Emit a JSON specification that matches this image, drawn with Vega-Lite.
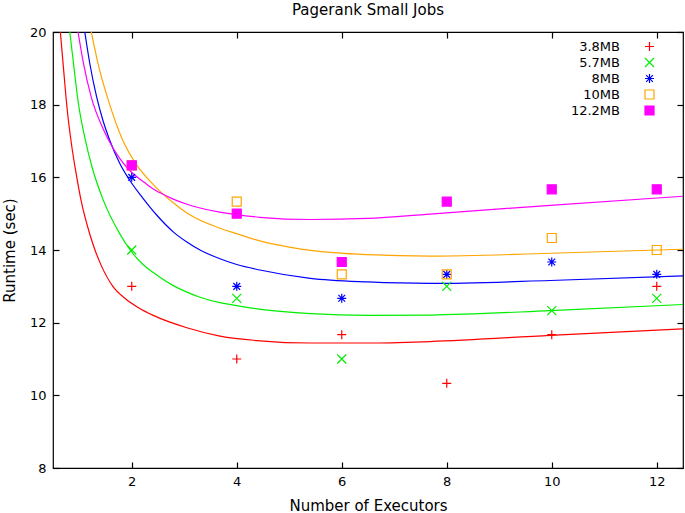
{
  "$schema": "https://vega.github.io/schema/vega-lite/v6.json",
  "width": 630,
  "height": 436,
  "autosize": {"type": "none"},
  "padding": {"left": 53, "top": 32, "right": 2, "bottom": 45},
  "background": "white",
  "title": {"text": "Pagerank Small Jobs", "font": "DejaVu Sans", "fontSize": 15, "fontWeight": "normal", "color": "black", "offset": 8},
  "config": {
    "view": {"stroke": "black", "strokeWidth": 1.2},
    "axis": {"grid": false, "domain": false, "tickColor": "black", "tickSize": -6, "tickWidth": 1.2, "labelFont": "DejaVu Sans", "labelFontSize": 13, "labelColor": "black", "titleFont": "DejaVu Sans", "titleFontSize": 15, "titleFontWeight": "normal", "titleColor": "black"},
    "legend": {"labelFont": "DejaVu Sans", "labelFontSize": 13, "labelColor": "black", "symbolSize": 81, "symbolStrokeWidth": 1.2, "rowPadding": 1, "padding": 0}
  },
  "datasets": {
    "pts": [
      {"series": "3.8MB", "x": 2, "y": 13.0}, {"series": "3.8MB", "x": 4, "y": 11.0}, {"series": "3.8MB", "x": 6, "y": 11.67}, {"series": "3.8MB", "x": 8, "y": 10.33}, {"series": "3.8MB", "x": 10, "y": 11.67}, {"series": "3.8MB", "x": 12, "y": 13.0},
      {"series": "5.7MB", "x": 2, "y": 14.0}, {"series": "5.7MB", "x": 4, "y": 12.67}, {"series": "5.7MB", "x": 6, "y": 11.0}, {"series": "5.7MB", "x": 8, "y": 13.0}, {"series": "5.7MB", "x": 10, "y": 12.33}, {"series": "5.7MB", "x": 12, "y": 12.67},
      {"series": "8MB", "x": 2, "y": 16.0}, {"series": "8MB", "x": 4, "y": 13.0}, {"series": "8MB", "x": 6, "y": 12.67}, {"series": "8MB", "x": 8, "y": 13.33}, {"series": "8MB", "x": 10, "y": 13.67}, {"series": "8MB", "x": 12, "y": 13.33},
      {"series": "10MB", "x": 2, "y": 16.33}, {"series": "10MB", "x": 4, "y": 15.33}, {"series": "10MB", "x": 6, "y": 13.33}, {"series": "10MB", "x": 8, "y": 13.33}, {"series": "10MB", "x": 10, "y": 14.33}, {"series": "10MB", "x": 12, "y": 14.0},
      {"series": "12.2MB", "x": 2, "y": 16.33}, {"series": "12.2MB", "x": 4, "y": 15.0}, {"series": "12.2MB", "x": 6, "y": 13.67}, {"series": "12.2MB", "x": 8, "y": 15.33}, {"series": "12.2MB", "x": 10, "y": 15.67}, {"series": "12.2MB", "x": 12, "y": 15.67}
    ],
    "fit": [
      {"series": "3.8MB", "x": 0.64, "y": 20}, {"series": "3.8MB", "x": 0.7, "y": 19.0}, {"series": "3.8MB", "x": 0.768, "y": 17.9}, {"series": "3.8MB", "x": 0.85, "y": 16.93}, {"series": "3.8MB", "x": 0.945, "y": 16.07}, {"series": "3.8MB", "x": 1.04, "y": 15.33}, {"series": "3.8MB", "x": 1.2, "y": 14.44}, {"series": "3.8MB", "x": 1.3, "y": 14.0}, {"series": "3.8MB", "x": 1.42, "y": 13.57}, {"series": "3.8MB", "x": 1.64, "y": 13.0}, {"series": "3.8MB", "x": 1.88, "y": 12.66}, {"series": "3.8MB", "x": 2.12, "y": 12.42}, {"series": "3.8MB", "x": 2.41, "y": 12.2}, {"series": "3.8MB", "x": 3.05, "y": 11.86}, {"series": "3.8MB", "x": 3.68, "y": 11.63}, {"series": "3.8MB", "x": 4.44, "y": 11.5}, {"series": "3.8MB", "x": 5.4, "y": 11.44}, {"series": "3.8MB", "x": 6.5, "y": 11.44}, {"series": "3.8MB", "x": 7.68, "y": 11.48}, {"series": "3.8MB", "x": 9.97, "y": 11.65}, {"series": "3.8MB", "x": 12.5, "y": 11.83},
      {"series": "5.7MB", "x": 0.82, "y": 20}, {"series": "5.7MB", "x": 0.895, "y": 19.08}, {"series": "5.7MB", "x": 0.977, "y": 18.1}, {"series": "5.7MB", "x": 1.105, "y": 17.1}, {"series": "5.7MB", "x": 1.25, "y": 16.25}, {"series": "5.7MB", "x": 1.45, "y": 15.4}, {"series": "5.7MB", "x": 1.77, "y": 14.45}, {"series": "5.7MB", "x": 1.97, "y": 14.0}, {"series": "5.7MB", "x": 2.215, "y": 13.6}, {"series": "5.7MB", "x": 2.41, "y": 13.38}, {"series": "5.7MB", "x": 2.79, "y": 13.02}, {"series": "5.7MB", "x": 3.05, "y": 12.84}, {"series": "5.7MB", "x": 3.3, "y": 12.7}, {"series": "5.7MB", "x": 3.68, "y": 12.55}, {"series": "5.7MB", "x": 4.0, "y": 12.47}, {"series": "5.7MB", "x": 4.5, "y": 12.36}, {"series": "5.7MB", "x": 5.4, "y": 12.25}, {"series": "5.7MB", "x": 6.5, "y": 12.2}, {"series": "5.7MB", "x": 7.68, "y": 12.21}, {"series": "5.7MB", "x": 9.97, "y": 12.33}, {"series": "5.7MB", "x": 12.5, "y": 12.5},
      {"series": "8MB", "x": 1.105, "y": 20}, {"series": "8MB", "x": 1.2, "y": 19.14}, {"series": "8MB", "x": 1.33, "y": 18.22}, {"series": "8MB", "x": 1.45, "y": 17.57}, {"series": "8MB", "x": 1.58, "y": 17.02}, {"series": "8MB", "x": 1.77, "y": 16.39}, {"series": "8MB", "x": 1.93, "y": 15.99}, {"series": "8MB", "x": 2.2, "y": 15.45}, {"series": "8MB", "x": 2.47, "y": 14.97}, {"series": "8MB", "x": 2.79, "y": 14.5}, {"series": "8MB", "x": 3.05, "y": 14.22}, {"series": "8MB", "x": 3.3, "y": 14.0}, {"series": "8MB", "x": 3.68, "y": 13.76}, {"series": "8MB", "x": 4.0, "y": 13.6}, {"series": "8MB", "x": 4.44, "y": 13.45}, {"series": "8MB", "x": 5.4, "y": 13.22}, {"series": "8MB", "x": 6.5, "y": 13.12}, {"series": "8MB", "x": 7.68, "y": 13.08}, {"series": "8MB", "x": 9.97, "y": 13.16}, {"series": "8MB", "x": 12.5, "y": 13.29},
      {"series": "10MB", "x": 1.23, "y": 20}, {"series": "10MB", "x": 1.358, "y": 19.13}, {"series": "10MB", "x": 1.58, "y": 18.0}, {"series": "10MB", "x": 1.82, "y": 17.05}, {"series": "10MB", "x": 2.09, "y": 16.35}, {"series": "10MB", "x": 2.41, "y": 15.8}, {"series": "10MB", "x": 2.79, "y": 15.3}, {"series": "10MB", "x": 3.05, "y": 15.02}, {"series": "10MB", "x": 3.68, "y": 14.6}, {"series": "10MB", "x": 4.0, "y": 14.45}, {"series": "10MB", "x": 4.44, "y": 14.25}, {"series": "10MB", "x": 5.0, "y": 14.08}, {"series": "10MB", "x": 5.4, "y": 13.99}, {"series": "10MB", "x": 6.5, "y": 13.87}, {"series": "10MB", "x": 7.68, "y": 13.83}, {"series": "10MB", "x": 9.97, "y": 13.91}, {"series": "10MB", "x": 12.5, "y": 14.02},
      {"series": "12.2MB", "x": 0.977, "y": 20}, {"series": "12.2MB", "x": 1.072, "y": 19.2}, {"series": "12.2MB", "x": 1.23, "y": 18.2}, {"series": "12.2MB", "x": 1.45, "y": 17.35}, {"series": "12.2MB", "x": 1.55, "y": 17.05}, {"series": "12.2MB", "x": 1.77, "y": 16.52}, {"series": "12.2MB", "x": 1.92, "y": 16.25}, {"series": "12.2MB", "x": 2.25, "y": 15.85}, {"series": "12.2MB", "x": 2.41, "y": 15.68}, {"series": "12.2MB", "x": 2.53, "y": 15.58}, {"series": "12.2MB", "x": 2.79, "y": 15.4}, {"series": "12.2MB", "x": 3.05, "y": 15.26}, {"series": "12.2MB", "x": 3.68, "y": 15.04}, {"series": "12.2MB", "x": 4.44, "y": 14.9}, {"series": "12.2MB", "x": 5.4, "y": 14.84}, {"series": "12.2MB", "x": 6.5, "y": 14.87}, {"series": "12.2MB", "x": 7.68, "y": 14.99}, {"series": "12.2MB", "x": 9.97, "y": 15.23}, {"series": "12.2MB", "x": 12.5, "y": 15.48}
    ]
  },
  "layer": [
    {
      "data": {"name": "fit"},
      "mark": {"type": "line", "clip": true, "interpolate": "monotone", "strokeWidth": 1.2},
      "encoding": {
        "x": {"field": "x", "type": "quantitative", "scale": {"domain": [0.5, 12.5], "nice": false, "zero": false}, "axis": {"orient": "top", "values": [2, 4, 6, 8, 10, 12], "labels": false, "title": null}},
        "y": {"field": "y", "type": "quantitative", "scale": {"domain": [8, 20], "nice": false, "zero": false}, "axis": {"orient": "right", "values": [8, 10, 12, 14, 16, 18, 20], "labels": false, "title": null}},
        "color": {"field": "series", "type": "nominal", "scale": {"domain": ["12.2MB", "10MB", "8MB", "5.7MB", "3.8MB"], "range": ["#ff00ff", "#ffa500", "#0000ff", "#00ee00", "#ff0000"]}, "legend": null},
        "order": {"field": "x", "type": "quantitative"}
      }
    },
    {
      "data": {"name": "pts"},
      "mark": {"type": "point", "filled": false, "strokeWidth": 1.2, "size": 81, "opacity": 1},
      "encoding": {
        "x": {"field": "x", "type": "quantitative", "axis": {"orient": "bottom", "values": [2, 4, 6, 8, 10, 12], "labelPadding": 13, "title": "Number of Executors", "titlePadding": 10}},
        "y": {"field": "y", "type": "quantitative", "axis": {"orient": "left", "values": [8, 10, 12, 14, 16, 18, 20], "labelPadding": 13, "title": "Runtime (sec)", "titlePadding": 12}},
        "stroke": {"field": "series", "type": "nominal", "sort": null, "scale": {"domain": ["3.8MB", "5.7MB", "8MB", "10MB", "12.2MB"], "range": ["#ff0000", "#00ee00", "#0000ff", "#ffa500", "#ff00ff"]}, "legend": {"title": null, "orient": "none", "legendX": 502, "legendY": 8, "labelAlign": "right", "labelOffset": -36, "symbolOffset": 88}},
        "fill": {"field": "series", "type": "nominal", "sort": null, "scale": {"domain": ["3.8MB", "5.7MB", "8MB", "10MB", "12.2MB"], "range": ["transparent", "transparent", "transparent", "transparent", "#ff00ff"]}, "legend": {"title": null, "orient": "none", "legendX": 502, "legendY": 8, "labelAlign": "right", "labelOffset": -36, "symbolOffset": 88}},
        "shape": {"field": "series", "type": "nominal", "sort": null, "scale": {"domain": ["3.8MB", "5.7MB", "8MB", "10MB", "12.2MB"], "range": ["M-1,0L1,0M0,-1L0,1", "M-1,-1L1,1M-1,1L1,-1", "M-1,0L1,0M0,-1L0,1M-0.75,-0.75L0.75,0.75M-0.75,0.75L0.75,-0.75", "square", "square"]}, "legend": {"title": null, "orient": "none", "legendX": 502, "legendY": 8, "labelAlign": "right", "labelOffset": -36, "symbolOffset": 88}}
      }
    }
  ],
  "resolve": {"axis": {"x": "independent", "y": "independent"}}
}
